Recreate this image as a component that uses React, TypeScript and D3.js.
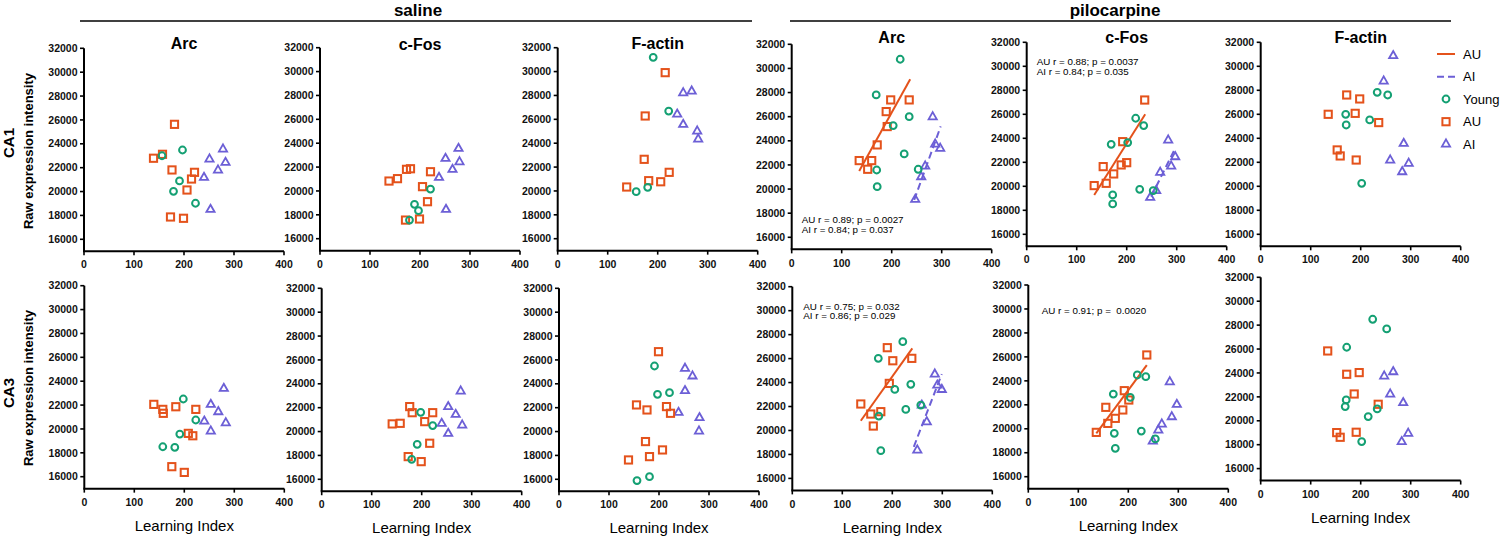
import React from "react";
import * as d3 from "d3";

const ORANGE = "#E4521B";
const GREEN = "#14A073";
const PURPLE = "#6C5FD6";
const FONT = "'Liberation Sans', Arial, Helvetica, sans-serif";

const xTicks = [0, 100, 200, 300, 400];
const yTicks = [16000, 18000, 20000, 22000, 24000, 26000, 28000, 30000, 32000];
const xDomain = [0, 400];
const yDomain = [15000, 32000];
const markers = ["Arc", "c-Fos", "F-actin"];
const treatments = ["saline", "pilocarpine"];
const regions = ["CA1", "CA3"];
const legendLabels = ["AU", "AI", "Young", "AU", "AI"];

// ---------- CA1 saline ----------
const ca1SalArcYoung = [[156, 23000], [197, 23480], [191, 20890], [179, 20020], [223, 19020]];
const ca1SalArcAU = [[181, 25630], [139, 22790], [157, 23120], [176, 21810], [221, 21610], [215, 21050], [206, 20130], [173, 17870], [199, 17760]];
const ca1SalArcAI = [[278, 23570], [251, 22730], [283, 22450], [268, 21810], [240, 21190], [253, 18510]];

const ca1SalFosYoung = [[221, 20160], [189, 18880], [197, 18350], [179, 17560]];
const ca1SalFosAU = [[138, 20830], [155, 21030], [173, 21810], [181, 21860], [221, 21610], [205, 20360], [215, 19100], [171, 17560], [199, 17650]];
const ca1SalFosAI = [[277, 23570], [251, 22730], [279, 22450], [265, 21810], [238, 21140], [252, 18460]];

const ca1SalActYoung = [[191, 31190], [222, 26690], [157, 19940], [180, 20300]];
const ca1SalActAU = [[215, 29910], [175, 26280], [173, 22650], [138, 20330], [182, 20860], [206, 20770], [223, 21560]];
const ca1SalActAI = [[251, 28230], [268, 28370], [239, 26440], [251, 25580], [279, 25020], [281, 24350]];

// ---------- CA1 pilocarpine ----------
const ca1PiloArcYoung = [[217, 30760], [169, 27800], [235, 26000], [203, 25260], [225, 22910], [170, 21580], [253, 21640], [171, 20200]];
const ca1PiloArcAU = [[198, 27390], [235, 27390], [189, 26420], [191, 25180], [171, 23660], [135, 22360], [160, 22360], [152, 21640]];
const ca1PiloArcAI = [[282, 26000], [287, 23740], [297, 23380], [267, 21910], [259, 21030], [247, 19150]];
const ca1PiloArcAUFit = [[135, 21500], [237, 29100]];
const ca1PiloArcAIFit = [[245, 19100], [298, 25200]];
const ca1PiloArcNotes = ["AU r = 0.89; p = 0.0027", "AI r = 0.84; p = 0.037"];

const ca1PiloFosYoung = [[218, 25670], [234, 25060], [169, 23500], [202, 23640], [226, 19750], [253, 19640], [172, 19280], [172, 18530]];
const ca1PiloFosAU = [[236, 27190], [192, 23720], [200, 21970], [189, 21780], [153, 21640], [174, 21030], [159, 20250], [135, 20060]];
const ca1PiloFosAI = [[283, 23860], [297, 22470], [289, 21690], [267, 21170], [259, 19640], [247, 19080]];
const ca1PiloFosAUFit = [[135, 19280], [237, 26000]];
const ca1PiloFosAIFit = [[249, 19140], [297, 23170]];
const ca1PiloFosNotes = ["AU r = 0.88; p = 0.0037", "AI r = 0.84; p = 0.035"];

const ca1PiloActYoung = [[233, 27830], [254, 27610], [170, 26000], [218, 25530], [171, 25110], [202, 20250]];
const ca1PiloActAU = [[172, 27610], [198, 27280], [135, 26000], [189, 26080], [236, 25310], [153, 23030], [159, 22530], [191, 22190]];
const ca1PiloActAI = [[265, 30890], [246, 28780], [286, 23580], [259, 22190], [296, 21920], [283, 21220]];

// ---------- CA3 saline ----------
const ca3SalArcYoung = [[198, 22510], [223, 20750], [191, 19570], [157, 18510], [181, 18460]];
const ca3SalArcAU = [[139, 22060], [157, 21640], [183, 21860], [158, 21310], [223, 21640], [208, 19630], [217, 19430], [175, 16840], [200, 16360]];
const ca3SalArcAI = [[279, 23400], [253, 22060], [268, 21450], [240, 20660], [283, 20520], [253, 19830]];

const ca3SalFosYoung = [[198, 21610], [222, 20500], [191, 18930], [180, 17670]];
const ca3SalFosAU = [[176, 22090], [181, 21580], [222, 21580], [206, 20830], [141, 20640], [157, 20690], [216, 19020], [173, 17900], [199, 17480]];
const ca3SalFosAI = [[278, 23400], [253, 22090], [268, 21440], [240, 20690], [281, 20550], [253, 19850]];

const ca3SalActYoung = [[191, 25490], [197, 23120], [221, 23260], [156, 15890], [181, 16220]];
const ca3SalActAU = [[199, 26690], [155, 22230], [176, 21810], [215, 22090], [223, 21530], [173, 19160], [181, 17900], [207, 18460], [139, 17620]];
const ca3SalActAI = [[252, 25300], [267, 24660], [252, 23430], [239, 21610], [281, 21170], [280, 20050]];

// ---------- CA3 pilocarpine ----------
const ca3PiloArcYoung = [[221, 27410], [172, 26020], [237, 23850], [205, 23430], [227, 21760], [173, 21200], [257, 22120], [177, 18310]];
const ca3PiloArcAU = [[190, 26910], [201, 25820], [239, 26020], [194, 23930], [137, 22210], [157, 21370], [177, 21570], [162, 20370]];
const ca3PiloArcAI = [[285, 24710], [290, 23790], [299, 23430], [259, 22120], [269, 20730], [250, 18370]];
const ca3PiloArcAUFit = [[137, 20815], [240, 26850]];
const ca3PiloArcAIFit = [[243, 18640], [299, 24710]];
const ca3PiloArcNotes = ["AU r = 0.75; p = 0.032", "AI r = 0.86; p = 0.029"];

const ca3PiloFosYoung = [[218, 24490], [235, 24350], [170, 22900], [204, 22620], [172, 19620], [226, 19810], [254, 19150], [174, 18370]];
const ca3PiloFosAU = [[237, 26160], [192, 23180], [155, 21790], [201, 22400], [189, 21570], [174, 20870], [159, 20450], [136, 19700]];
const ca3PiloFosAI = [[283, 23930], [297, 22040], [287, 21010], [267, 20400], [260, 19900], [249, 18980]];
const ca3PiloFosAUFit = [[136, 19620], [237, 25320]];
const ca3PiloFosNotes = ["AU r = 0.91; p =  0.0020"];

const ca3PiloActYoung = [[224, 28490], [252, 27680], [172, 26150], [171, 21740], [169, 21190], [215, 20350], [233, 20990], [202, 18260]];
const ca3PiloActAU = [[134, 25840], [172, 23890], [197, 24030], [187, 22240], [235, 21380], [152, 19010], [159, 18620], [191, 19040]];
const ca3PiloActAI = [[247, 23750], [265, 24110], [259, 22240], [285, 21520], [295, 18960], [282, 18260]];

// panel layout (pixel geometry) + references to data
const panels = [
  { x0: 84, y32: 48.3, h: 191, title: markers[0], titleY: 49, young: ca1SalArcYoung, au: ca1SalArcAU, ai: ca1SalArcAI },
  { x0: 320, y32: 47.7, h: 191, title: markers[1], titleY: 50, young: ca1SalFosYoung, au: ca1SalFosAU, ai: ca1SalFosAI },
  { x0: 557.7, y32: 47.7, h: 191, title: markers[2], titleY: 49, young: ca1SalActYoung, au: ca1SalActAU, ai: ca1SalActAI },
  { x0: 791.7, y32: 44.3, h: 193, title: markers[0], titleY: 43, young: ca1PiloArcYoung, au: ca1PiloArcAU, ai: ca1PiloArcAI, auFit: ca1PiloArcAUFit, aiFit: ca1PiloArcAIFit, notes: ca1PiloArcNotes, noteX: 10, noteY: 179 },
  { x0: 1026.7, y32: 42.3, h: 192, title: markers[1], titleY: 43, young: ca1PiloFosYoung, au: ca1PiloFosAU, ai: ca1PiloFosAI, auFit: ca1PiloFosAUFit, aiFit: ca1PiloFosAIFit, notes: ca1PiloFosNotes, noteX: 10, noteY: 22.7 },
  { x0: 1260.7, y32: 42.3, h: 192, title: markers[2], titleY: 43, young: ca1PiloActYoung, au: ca1PiloActAU, ai: ca1PiloActAI },
  { x0: 84.3, y32: 285.7, h: 191, young: ca3SalArcYoung, au: ca3SalArcAU, ai: ca3SalArcAI, xlab: true },
  { x0: 321.7, y32: 288.3, h: 191, young: ca3SalFosYoung, au: ca3SalFosAU, ai: ca3SalFosAI, xlab: true },
  { x0: 559, y32: 288.3, h: 191, young: ca3SalActYoung, au: ca3SalActAU, ai: ca3SalActAI, xlab: true },
  { x0: 792.3, y32: 286.7, h: 191.7, young: ca3PiloArcYoung, au: ca3PiloArcAU, ai: ca3PiloArcAI, auFit: ca3PiloArcAUFit, aiFit: ca3PiloArcAIFit, notes: ca3PiloArcNotes, noteX: 11, noteY: 22.8, xlab: true },
  { x0: 1028.3, y32: 285, h: 191.7, young: ca3PiloFosYoung, au: ca3PiloFosAU, ai: ca3PiloFosAI, auFit: ca3PiloFosAUFit, notes: ca3PiloFosNotes, noteX: 13.4, noteY: 28.5, xlab: true },
  { x0: 1260.7, y32: 277.3, h: 191.3, young: ca3PiloActYoung, au: ca3PiloActAU, ai: ca3PiloActAI, xlab: true },
];

const triPath = "M0,-4.6L4.1,2.6L-4.1,2.6Z";

function Panel({ p }: { p: any }) {
  const x = d3.scaleLinear().domain(xDomain).range([p.x0, p.x0 + 200]);
  const y = d3.scaleLinear().domain(yDomain).range([p.y32 + (p.h * 17) / 16, p.y32]);
  const line = d3.line<number[]>().x((d) => x(d[0])).y((d) => y(d[1]));
  const bottom = y(yDomain[0]);
  return (
    <g>
      {p.title && (
        <text x={p.x0 + 100} y={p.titleY} textAnchor="middle" fontSize={16} fontWeight="bold" fontFamily={FONT}>
          {p.title}
        </text>
      )}
      {/* y axis */}
      <line x1={p.x0} x2={p.x0} y1={bottom} y2={y(32000)} stroke="#000" strokeWidth={2} />
      {yTicks.map((t) => (
        <g key={t}>
          <line x1={p.x0 - 4} x2={p.x0} y1={y(t)} y2={y(t)} stroke="#000" strokeWidth={1.6} />
          <text x={p.x0 - 6.5} y={y(t)} dy="0.35em" textAnchor="end" fontSize={10.5} fontWeight="bold" fontFamily={FONT} fill="#111">
            {t}
          </text>
        </g>
      ))}
      {/* x axis */}
      <line x1={p.x0 - 1} x2={x(400)} y1={bottom} y2={bottom} stroke="#000" strokeWidth={2} />
      {xTicks.map((t) => (
        <g key={t}>
          <line x1={x(t)} x2={x(t)} y1={bottom} y2={bottom + 4} stroke="#000" strokeWidth={1.6} />
          <text x={x(t)} y={bottom + 13.5} dy="0.35em" textAnchor="middle" fontSize={10.5} fontWeight="bold" fontFamily={FONT} fill="#111">
            {t}
          </text>
        </g>
      ))}
      {p.xlab && (
        <text x={p.x0 + 100} y={bottom + 37} dy="0.35em" textAnchor="middle" fontSize={15} fontFamily={FONT}>
          Learning Index
        </text>
      )}
      {/* fits */}
      {p.auFit && <path d={line(p.auFit) || ""} stroke={ORANGE} strokeWidth={2} fill="none" />}
      {p.aiFit && <path d={line(p.aiFit) || ""} stroke={PURPLE} strokeWidth={2} fill="none" strokeDasharray="7,4" />}
      {/* points */}
      {p.ai.map((d: number[], i: number) => (
        <path key={"t" + i} d={triPath} transform={`translate(${x(d[0])},${y(d[1])})`} fill="none" stroke={PURPLE} strokeWidth={1.8} />
      ))}
      {p.au.map((d: number[], i: number) => (
        <rect key={"s" + i} x={x(d[0]) - 3.6} y={y(d[1]) - 3.6} width={7.2} height={7.2} fill="none" stroke={ORANGE} strokeWidth={2} />
      ))}
      {p.young.map((d: number[], i: number) => (
        <circle key={"c" + i} cx={x(d[0])} cy={y(d[1])} r={3.4} fill="none" stroke={GREEN} strokeWidth={2} />
      ))}
      {p.notes &&
        p.notes.map((n: string, i: number) => (
          <text key={n} x={p.x0 + p.noteX} y={p.y32 + p.noteY + i * 9.8} fontSize={9.8} fontFamily={FONT} style={{ whiteSpace: "pre" }}>
            {n}
          </text>
        ))}
    </g>
  );
}

export default function App() {
  const legendY = [54, 76.7, 99, 121.7, 144];
  return (
    <svg width={1500} height={536} style={{ position: "absolute", left: 0, top: 0, background: "#fff" }}>
      <rect width={1500} height={536} fill="#fff" />
      {/* group headers */}
      <line x1={80} x2={752} y1={21} y2={21} stroke="#000" strokeWidth={1.5} />
      <line x1={790} x2={1451} y1={21} y2={21} stroke="#000" strokeWidth={1.5} />
      <text x={418} y={16} textAnchor="middle" fontSize={17} fontWeight="bold" fontFamily={FONT}>
        {treatments[0]}
      </text>
      <text x={1115} y={16} textAnchor="middle" fontSize={17} fontWeight="bold" fontFamily={FONT}>
        {treatments[1]}
      </text>
      {/* row labels */}
      <text transform="translate(9,143) rotate(-90)" textAnchor="middle" dy="0.35em" fontSize={15} fontWeight="bold" fontFamily={FONT}>
        {regions[0]}
      </text>
      <text transform="translate(28,151) rotate(-90)" textAnchor="middle" dy="0.35em" fontSize={13} fontWeight="bold" fontFamily={FONT}>
        Raw expression intensity
      </text>
      <text transform="translate(9,393) rotate(-90)" textAnchor="middle" dy="0.35em" fontSize={15} fontWeight="bold" fontFamily={FONT}>
        {regions[1]}
      </text>
      <text transform="translate(28,388) rotate(-90)" textAnchor="middle" dy="0.35em" fontSize={13} fontWeight="bold" fontFamily={FONT}>
        Raw expression intensity
      </text>
      {panels.map((p, i) => (
        <Panel key={i} p={p} />
      ))}
      {/* legend */}
      <g>
        <line x1={1437} x2={1455} y1={legendY[0]} y2={legendY[0]} stroke={ORANGE} strokeWidth={2} />
        <line x1={1437} x2={1455} y1={legendY[1]} y2={legendY[1]} stroke={PURPLE} strokeWidth={2} strokeDasharray="7,4" />
        <circle cx={1446} cy={legendY[2]} r={3.4} fill="none" stroke={GREEN} strokeWidth={2} />
        <rect x={1446 - 3.6} y={legendY[3] - 3.6} width={7.2} height={7.2} fill="none" stroke={ORANGE} strokeWidth={2} />
        <path d={triPath} transform={`translate(1446,${legendY[4]})`} fill="none" stroke={PURPLE} strokeWidth={1.8} />
        {legendLabels.map((l, i) => (
          <text key={i} x={1463} y={legendY[i]} dy="0.35em" fontSize={13} fontFamily={FONT}>
            {l}
          </text>
        ))}
      </g>
    </svg>
  );
}
